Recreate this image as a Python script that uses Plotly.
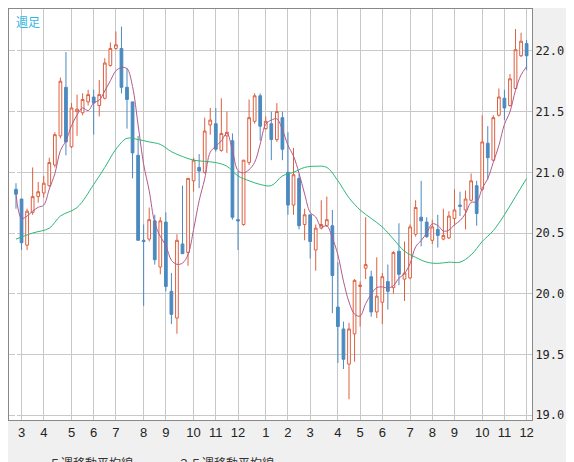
import plotly.graph_objects as go
import pandas as pd

# weekly OHLC (93 weeks)
opens = [20.86,20.78,20.40,20.67,20.80,20.83,20.89,21.06,21.30,21.70,21.21,21.50,21.49,21.58,21.62,21.55,21.61,21.88,22.02,22.02,
         21.70,21.58,21.14,20.44,20.45,20.60,20.22,20.59,20.02,19.80,20.41,20.34,20.93,21.04,21.00,21.39,21.40,21.18,21.30,21.26,
         20.61,20.57,21.08,21.42,21.63,21.36,21.40,21.27,21.45,21.00,20.73,20.95,20.57,20.65,20.36,20.54,20.56,20.56,19.89,19.71,
         19.42,19.67,20.06,20.21,20.14,19.85,19.93,20.10,20.05,20.35,20.12,20.13,20.49,20.63,20.59,20.44,20.53,20.45,20.46,20.62,
         20.73,20.69,20.77,20.89,20.86,21.24,21.10,21.47,21.61,21.55,21.69,21.96,22.06]
highs = [20.91,20.78,20.70,21.04,20.92,20.97,21.12,21.33,21.78,21.99,21.57,21.64,21.65,21.68,21.68,21.76,21.94,22.07,22.16,22.20,
         21.86,21.58,21.30,20.57,20.71,20.65,20.63,20.67,20.17,20.49,20.89,20.95,21.12,21.15,21.45,21.53,21.53,21.61,21.50,21.32,
         21.01,21.10,21.60,21.65,21.65,21.46,21.50,21.57,21.50,21.33,21.20,20.99,20.70,20.65,20.57,20.77,20.80,20.69,20.26,19.77,
         19.76,20.12,20.10,20.63,20.19,20.30,20.17,20.24,20.35,20.58,20.43,20.57,20.77,20.93,20.63,20.61,20.65,20.70,20.68,20.86,
         20.84,20.85,20.99,20.93,21.47,21.38,21.47,21.69,21.68,21.81,22.18,22.15,22.09]
lows = [20.70,20.36,20.36,20.65,20.75,20.79,20.88,21.04,21.28,21.14,21.20,21.30,21.47,21.55,21.31,21.46,21.60,21.87,22.01,21.65,
        21.36,20.95,20.44,19.90,20.43,20.24,20.16,20.02,19.75,19.67,20.33,20.23,20.84,20.87,20.99,21.31,21.17,21.17,21.16,20.61,
        20.36,20.56,21.06,21.40,21.26,21.35,21.10,21.25,21.10,20.65,20.65,20.53,20.44,20.29,20.19,20.53,20.55,19.84,19.43,19.38,
        19.13,19.44,19.73,20.12,19.81,19.80,19.75,19.87,20.00,20.07,19.94,20.12,20.47,20.39,20.46,20.41,20.38,20.44,20.45,20.56,
        20.64,20.53,20.76,20.56,20.85,20.94,21.09,21.46,21.43,21.54,21.68,21.95,21.84]
closes = [20.82,20.42,20.68,20.80,20.84,20.91,21.08,21.31,21.75,21.25,21.53,21.52,21.60,21.64,21.57,21.64,21.90,22.02,22.05,21.70,
          21.60,21.16,20.44,20.43,20.61,20.28,20.60,20.06,19.83,20.44,20.33,20.95,21.10,21.01,21.34,21.43,21.19,21.32,21.33,20.63,
          20.60,21.10,21.45,21.63,21.38,21.42,21.27,21.50,21.19,20.73,20.98,20.56,20.65,20.43,20.54,20.57,20.61,20.15,19.73,19.46,
          19.71,20.11,20.07,20.24,19.85,19.98,20.14,20.02,20.34,20.16,20.17,20.55,20.71,20.60,20.47,20.55,20.48,20.48,20.64,20.69,
          20.72,20.78,20.93,20.66,21.25,21.12,21.45,21.62,21.53,21.77,22.01,22.08,21.96]

# 25-week moving average at every other week
ma25_idx = [0,3,6,8,11,14,16,18,20,22,24,26,28,30,32,34,36,38,40,42,44,46,48,50,52,54,56,58,60,62,64,66,68,70,72,74,76,78,80,82,84,86,88,90,92]
ma25_val = [20.45,20.50,20.54,20.64,20.71,20.90,21.04,21.19,21.28,21.27,21.25,21.23,21.17,21.13,21.10,21.09,21.08,21.05,20.97,20.93,
            20.90,20.89,20.97,21.00,21.04,21.05,21.04,20.93,20.79,20.69,20.62,20.55,20.45,20.35,20.30,20.26,20.25,20.26,20.26,20.32,
            20.43,20.52,20.65,20.80,20.95]

month_pos = [1,5,10,14,18,23,27,32,36,40,45,49,53,58,62,66,71,75,79,84,88,92]
month_lbl = ['3','4','5','6','7','8','9','10','11','12','1','2','3','4','5','6','7','8','9','10','11','12']

x = list(range(len(closes)))
ma5 = pd.Series(closes).rolling(5, min_periods=1).mean()

fig = go.Figure()
fig.add_trace(go.Candlestick(x=x, open=opens, high=highs, low=lows, close=closes,
                             increasing=dict(line=dict(color='#dd6040', width=1), fillcolor='white'),
                             decreasing=dict(line=dict(color='#4a8ac0', width=1), fillcolor='#4a8ac0'),
                             whiskerwidth=0, showlegend=False, hoverinfo='skip'))
fig.add_trace(go.Scatter(x=x, y=ma5, mode='lines', line=dict(color='#b45a8a', width=1, shape='spline'),
                         name='５週移動平均線'))
fig.add_trace(go.Scatter(x=ma25_idx, y=ma25_val, mode='lines', line=dict(color='#2cb878', width=1, shape='spline'),
                         name='２５週移動平均線'))

fig.add_annotation(text='週足', x=0.01, y=0.995, xref='paper', yref='paper', xanchor='left', yanchor='top',
                   showarrow=False, font=dict(color='#30b8e8', size=12, family='Noto Sans CJK JP'))

fig.update_layout(
    width=574, height=462,
    margin=dict(l=1, r=50, t=1, b=50, autoexpand=False),
    paper_bgcolor='#f0f0f0', plot_bgcolor='white',
    font=dict(family='DejaVu Sans Mono', size=12, color='#222'),
    legend=dict(orientation='h', x=0.0, y=-0.07, xanchor='left', yanchor='top',
                font=dict(family='Noto Sans CJK JP', size=12, color='#333'), bgcolor='rgba(0,0,0,0)'),
)
fig.update_xaxes(range=[-1.26, 92.97], tickmode='array', tickvals=month_pos, ticktext=month_lbl,
                 showgrid=True, gridcolor='#c8c8c8', rangeslider_visible=False,
                 showline=True, linecolor='#888', mirror=True, ticks='', tickfont=dict(size=13, family='Liberation Sans'))
fig.update_yaxes(range=[18.96, 22.345], side='right', tickvals=[19.0,19.5,20.0,20.5,21.0,21.5,22.0],
                 tickformat='.1f', showgrid=True, gridcolor='#c8c8c8', showline=True, linecolor='#888', mirror=True,
                 ticks='', zeroline=False)
fig.write_html("out.html")
